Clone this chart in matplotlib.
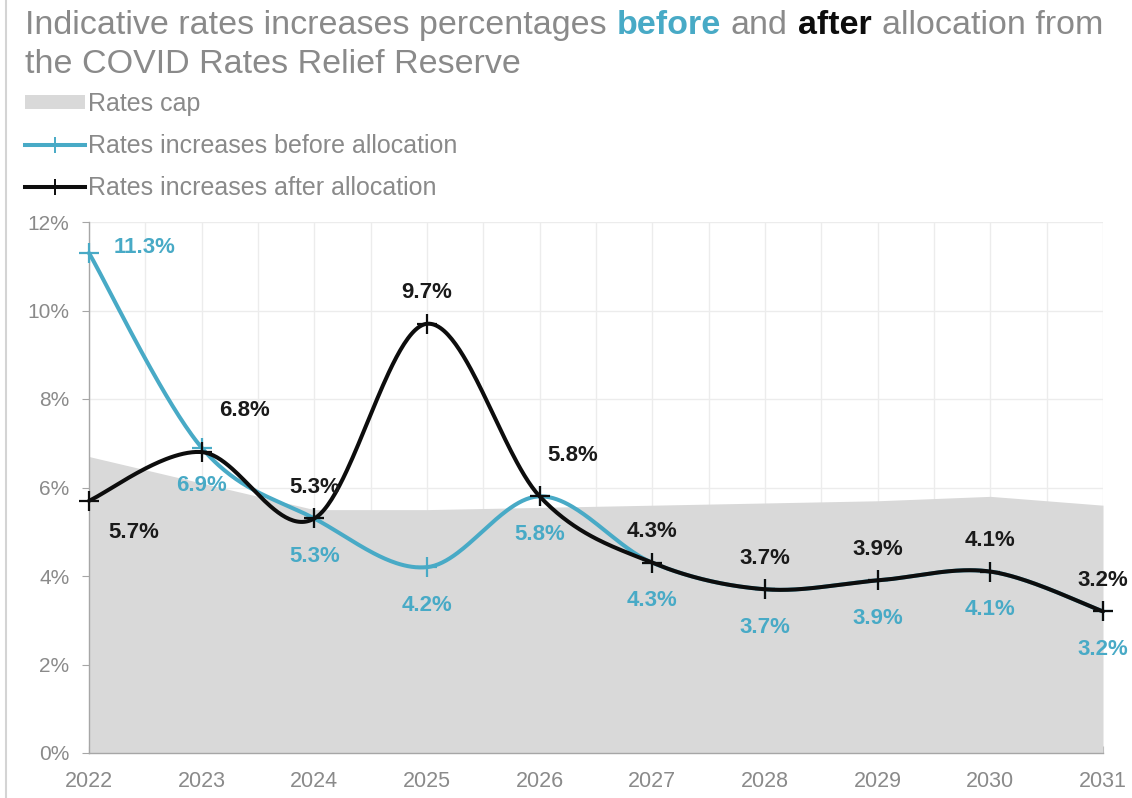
import numpy as np
import matplotlib
matplotlib.use("Agg")
import matplotlib.pyplot as plt
from matplotlib.lines import Line2D
from matplotlib.patches import Patch
from matplotlib.ticker import FuncFormatter, MultipleLocator

plt.rcParams["font.family"] = ["Liberation Sans", "DejaVu Sans"]

# ---- data -------------------------------------------------------------
years = [2022, 2023, 2024, 2025, 2026, 2027, 2028, 2029, 2030, 2031]
rates_cap = [6.7, 6.1, 5.5, 5.5, 5.55, 5.6, 5.65, 5.7, 5.8, 5.6]
before_alloc = [11.3, 6.9, 5.3, 4.2, 5.8, 4.3, 3.7, 3.9, 4.1, 3.2]
after_alloc = [5.7, 6.8, 5.3, 9.7, 5.8, 4.3, 3.7, 3.9, 4.1, 3.2]
y_ticks = [0, 2, 4, 6, 8, 10, 12]
legend_labels = ["Rates cap",
                 "Rates increases before allocation",
                 "Rates increases after allocation"]

# ---- styling ----------------------------------------------------------
TEAL = "#48aac6"
BLACK = "#0d0d0d"
GREY_TEXT = "#8a8a8a"
CAP_FILL = "#d9d9d9"
GRID = "#ececec"
W, H = 1132, 798


def smooth(xs, ys, n=60):
    """Bezier smoothing through every point (Catmull-Rom tangents)."""
    x = np.asarray(xs, float)
    y = np.asarray(ys, float)
    pts = np.column_stack([x, y])
    ext = np.vstack([pts[0], pts, pts[-1]])
    t = np.linspace(0, 1, n)[:, None]
    segs = []
    for i in range(len(pts) - 1):
        p0, p3 = pts[i], pts[i + 1]
        c1 = p0 + (p3 - ext[i]) / 6.0
        c2 = p3 - (ext[i + 3] - p0) / 6.0
        b = ((1 - t) ** 3) * p0 + 3 * ((1 - t) ** 2) * t * c1 \
            + 3 * (1 - t) * t ** 2 * c2 + t ** 3 * p3
        segs.append(b if i == 0 else b[1:])
    out = np.vstack(segs)
    return out[:, 0], out[:, 1]


fig = plt.figure(figsize=(W / 100, H / 100), dpi=100)
ax = fig.add_axes([89 / W, 1 - 753 / H, (1103 - 89) / W, (753 - 222) / H])

# rates cap area
ax.fill_between(years, rates_cap, 0, color=CAP_FILL, lw=0, zorder=1)

# smoothed series
bx, by = smooth(years, before_alloc)
ax.plot(bx, by, color=TEAL, lw=2.9, zorder=3, clip_on=False,
        solid_capstyle="round")
ax.plot(years, before_alloc, ls="none", marker="+", ms=15, mew=1.6,
        color=TEAL, zorder=3, clip_on=False)
axx, ayy = smooth(years, after_alloc)
ax.plot(axx, ayy, color=BLACK, lw=2.9, zorder=4, clip_on=False,
        solid_capstyle="round")
ax.plot(years, after_alloc, ls="none", marker="+", ms=15, mew=1.6,
        color=BLACK, zorder=4, clip_on=False)

# data labels: offsets in pixels (dx, dy)
after_off = {2022: (45, -32), 2023: (43, 42), 2026: (33, 41)}
before_off = {2022: (56, 5)}
for yr, v in zip(years, after_alloc):
    dx, dy = after_off.get(yr, (0, 31))
    ax.annotate(f"{v:.1f}%", (yr, v), xytext=(dx, dy),
                textcoords="offset pixels", ha="center", va="center",
                fontsize=16, fontweight="bold", color="#1a1a1a",
                annotation_clip=False, zorder=6)
for yr, v in zip(years, before_alloc):
    dx, dy = before_off.get(yr, (0, -38))
    ax.annotate(f"{v:.1f}%", (yr, v), xytext=(dx, dy),
                textcoords="offset pixels", ha="center", va="center",
                fontsize=16, fontweight="bold", color=TEAL,
                annotation_clip=False, zorder=6)

# axes
ax.set_xlim(years[0], years[-1])
ax.set_ylim(y_ticks[0], y_ticks[-1])
ax.set_yticks(y_ticks)
ax.yaxis.set_major_formatter(FuncFormatter(lambda v, _: f"{v:.0f}%"))
ax.set_xticks(years)
ax.set_xticklabels([str(y) for y in years])
ax.xaxis.set_minor_locator(MultipleLocator(0.5))
ax.grid(True, axis="y", which="major", color=GRID, lw=1, zorder=0)
ax.grid(True, axis="x", which="both", color=GRID, lw=1, zorder=0)
ax.set_axisbelow(True)
for side in ("top", "right"):
    ax.spines[side].set_visible(False)
for side in ("left", "bottom"):
    ax.spines[side].set_color("#a6a6a6")
    ax.spines[side].set_linewidth(1.0)
    ax.spines[side].set_zorder(2)
ax.tick_params(axis="y", direction="out", length=5, color="#a6a6a6",
               labelsize=15, labelcolor=GREY_TEXT, pad=9)
ax.tick_params(axis="x", which="major", direction="in", length=5,
               color="#a6a6a6", labelsize=15.5, labelcolor=GREY_TEXT, pad=13)
ax.tick_params(axis="x", which="minor", length=0)

# legend
handles = [
    Patch(facecolor=CAP_FILL, edgecolor="none"),
    Line2D([], [], color=TEAL, lw=2.9, marker="+", ms=12, mew=1.4),
    Line2D([], [], color=BLACK, lw=2.9, marker="+", ms=12, mew=1.4),
]
ax.legend(handles, legend_labels, loc="upper left",
          bbox_to_anchor=(25 / W, 1 - 92 / H), bbox_transform=fig.transFigure,
          frameon=False, fontsize=18, labelcolor=GREY_TEXT, borderpad=0,
          borderaxespad=0, handlelength=2.4, handleheight=0.47,
          handletextpad=0.12, labelspacing=0.72)

# title with coloured keywords
title_fs = 24.5
t0 = fig.text(25 / W, 1 - 34 / H, "Indicative rates increases percentages",
              fontsize=title_fs, color=GREY_TEXT, va="baseline", ha="left")
parts = [("before", TEAL, "bold"), ("and", GREY_TEXT, "normal"),
         ("after", BLACK, "bold"), ("allocation from", GREY_TEXT, "normal")]
prev = t0
for txt, col, wt in parts:
    prev = ax.annotate(txt, xy=(1, 0), xycoords=prev, xytext=(10, 0),
                       textcoords="offset pixels", ha="left", va="bottom",
                       fontsize=title_fs, color=col, fontweight=wt,
                       annotation_clip=False)
fig.text(25 / W, 1 - 73 / H, "the COVID Rates Relief Reserve",
         fontsize=title_fs, color=GREY_TEXT, va="baseline", ha="left")

# thin frame line on the left edge
fig.add_artist(Line2D([6 / W, 6 / W], [0, 1], color="#d4d4d4", lw=1.5,
                      transform=fig.transFigure))

fig.savefig("out.png", dpi=100)
